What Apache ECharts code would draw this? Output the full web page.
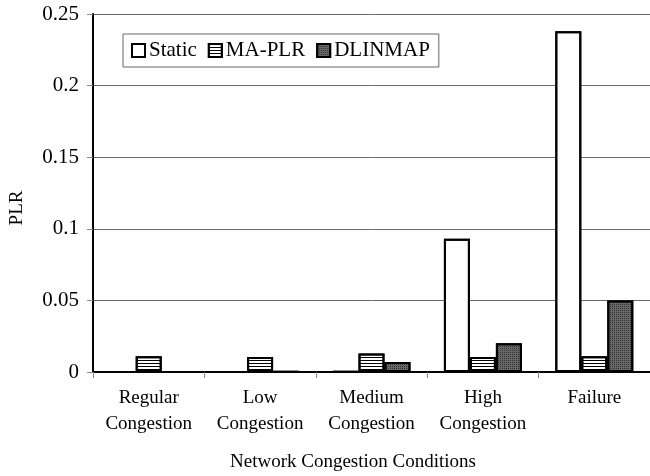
<!DOCTYPE html>
<html>
<head>
<meta charset="utf-8">
<script src="https://cdn.jsdelivr.net/npm/echarts@6/dist/echarts.min.js"></script>
<style>
  html, body { margin: 0; padding: 0; background: #fff; }
  #chart { width: 650px; height: 476px; }
</style>
</head>
<body>
<div id="chart"></div>
<script>
// categories and values
var categories = ["Regular\nCongestion", "Low\nCongestion", "Medium\nCongestion", "High\nCongestion", "Failure"];
var staticPlr = [0, 0, 0.0005, 0.093, 0.238];
var maPlr = [0.011, 0.0105, 0.013, 0.0105, 0.011];
var dlinmap = [0, 0.0005, 0.007, 0.02, 0.05];
var yTicks = [0, 0.05, 0.1, 0.15, 0.2, 0.25];

var font = "Liberation Serif";

var chart = echarts.init(document.getElementById("chart"));

var option = {
    animation: false,
    backgroundColor: "#fff",
    aria: { enabled: true, decal: { show: true } },
    title: {
        text: "Network Congestion Conditions",
        left: 230,
        top: 453,
        padding: 0,
        textStyle: { fontFamily: font, fontSize: 19, fontWeight: "normal", color: "#000" }
    },
    legend: {
        left: 123,
        top: 34,
        padding: [6, 9, 6, 8],
        itemGap: 11,
        itemWidth: 13,
        itemHeight: 13,
        borderColor: "#666",
        borderWidth: 1,
        icon: "rect",
        textStyle: { fontFamily: font, fontSize: 21, color: "#000", padding: [0, 0, 0, -1] },
        data: ["Static", "MA-PLR", "DLINMAP"]
    },
    grid: { left: 92, right: -2, top: 14, bottom: 104, containLabel: false },
    xAxis: {
        type: "category",
        data: categories,
        axisLine: { lineStyle: { color: "#000", width: 2 } },
        axisTick: { show: true, length: 6, lineStyle: { color: "#888" } },
        axisLabel: { interval: 0, fontFamily: font, fontSize: 19, color: "#000", lineHeight: 26, margin: 13 }
    },
    yAxis: {
        type: "value",
        min: 0,
        max: 0.25,
        interval: 0.05,
        name: "PLR",
        nameLocation: "middle",
        nameGap: 66,
        nameTextStyle: { fontFamily: font, fontSize: 19, color: "#000", padding: [0, 30, 0, 0] },
        axisLine: { show: true, lineStyle: { color: "#000", width: 2 } },
        axisTick: { show: true, length: 6, lineStyle: { color: "#888" } },
        splitLine: { lineStyle: { color: "#6a6a6a", width: 1 } },
        axisLabel: {
            fontFamily: font, fontSize: 21, color: "#000", margin: 14,
            formatter: function (v) {
                for (var i = 0; i < yTicks.length; i++) {
                    if (Math.abs(v - yTicks[i]) < 1e-9) return String(yTicks[i]);
                }
                return "";
            }
        }
    },
    series: [
        {
            name: "Static",
            type: "bar",
            data: staticPlr,
            barGap: "0%",
            barCategoryGap: "30%",
            itemStyle: { color: "#fff", borderColor: "#000", borderWidth: 2, decal: { symbol: "none" } }
        },
        {
            name: "MA-PLR",
            type: "bar",
            data: maPlr,
            itemStyle: {
                color: "#fff", borderColor: "#000", borderWidth: 2,
                decal: { symbol: "rect", symbolSize: 1, color: "#000", dashArrayX: [1, 0], dashArrayY: [1, 2], rotation: 0 }
            }
        },
        {
            name: "DLINMAP",
            type: "bar",
            data: dlinmap,
            itemStyle: {
                color: "#686868", borderColor: "#000", borderWidth: 2,
                decal: { symbol: "rect", symbolSize: 1, color: "#333", dashArrayX: [1, 1], dashArrayY: [1, 1], rotation: 0 }
            }
        }
    ]
};

chart.setOption(option);
</script>
</body>
</html>
